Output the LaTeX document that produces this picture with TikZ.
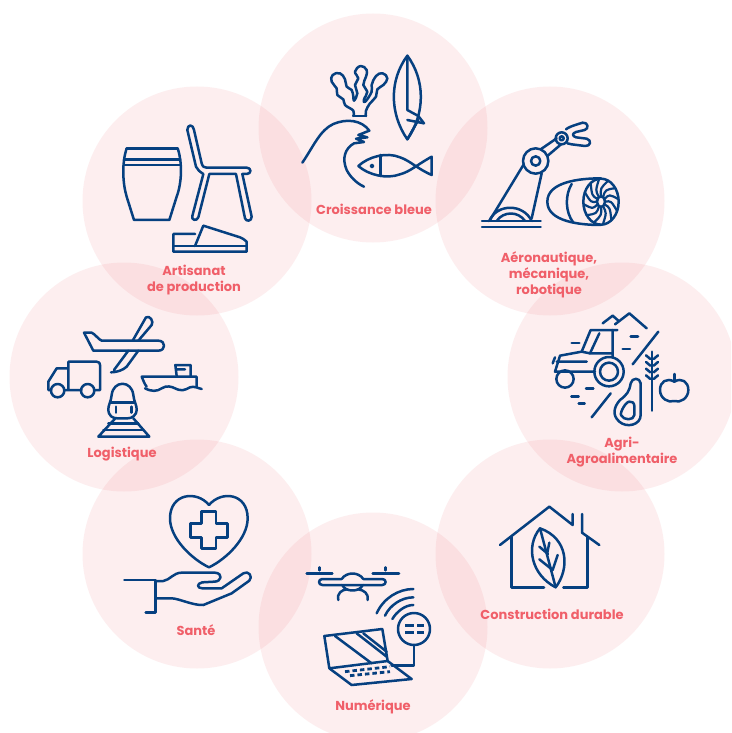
\documentclass[tikz,border=0pt]{standalone}
\usetikzlibrary{calc}
\usepackage{fontspec}
\setmainfont{Poppins}
\definecolor{pinkfill}{RGB}{235,75,85}
\definecolor{labelred}{RGB}{240,95,105}
\definecolor{navy}{RGB}{6,64,128}
\tikzset{
  sector/.style={fill=pinkfill,fill opacity=.09,draw=none},
  icon/.style={draw=navy,line width=2.5pt,line cap=round,line join=round},
  zoomed/.style={shift={#1},scale=.33333,every path/.append style={icon}},
  sectorlabel/.style={text=labelred,font=\fontsize{13}{16}\selectfont\bfseries,align=center,inner sep=0pt,anchor=center,yshift=-1.5pt}
}
\begin{document}
\begin{tikzpicture}[x=1pt,y=-1pt]
\useasboundingbox (0,0) rectangle (731,733);
\fill[white] (0,0) rectangle (731,733);
\begin{scope}
\clip (0,0) rectangle (731,733);
\foreach \cx/\cy in {373/128,550/201,622/377,550/554,373/627,197/554,124/377,197/201}
  \fill[sector] (\cx,\cy) circle (114.5);
\end{scope}

% Croissance bleue
\begin{scope}[zoomed={(290,40)}]
\draw plot[smooth,tension=.75] coordinates {(190,228)(190,212)(165,195)(160,178)(142,165)(140,145)(125,125)(128,105)(150,100)(165,118)(170,140)(185,150)(190,170)(192,182)(202,160)(195,135)(205,115)(195,95)(212,78)(230,90)(228,110)(220,135)(232,155)(222,178)(226,185)(245,155)(245,135)(258,108)(278,100)(292,115)(280,135)(262,148)(258,170)(240,190)(228,212)(228,228)};
\draw (190,228)--(228,228);
\draw (352,47) .. controls (298,120) and (298,220) .. (352,298) .. controls (406,220) and (406,120) .. (352,47);
\draw (352,47)--(352,210)--(385,228)--(402,250)--(352,240);
\draw (385,240)--(352,298);
\draw (37,368) .. controls (70,320) and (90,270) .. (130,252) .. controls (170,235) and (215,240) .. (238,272)--(205,285)--(232,292)--(198,296)--(222,306)--(192,310) .. controls (165,325) and (155,355) .. (170,390) .. controls (180,410) and (200,430) .. (222,440);
\draw (205,378) .. controls (235,350) and (290,335) .. (330,352) .. controls (360,362) and (380,385) .. (425,405)--(425,350) .. controls (380,375) and (360,395) .. (330,403) .. controls (290,418) and (235,405) .. (205,378);
\draw (272,345)--(272,408);
\draw (246,378) circle (3.5);
\end{scope}

% Aeronautique
\begin{scope}[zoomed={(470,110)}]
\draw (36,333)--(212,333) (36,351)--(212,351);
\draw (58,333) .. controls (80,280) and (160,280) .. (185,333);
\draw (80,333) .. controls (100,303) and (145,303) .. (165,333);
\draw (58,333)--(160,165) (185,325)--(215,190);
\draw (197,153) circle (38) (197,153) circle (14);
\draw (212,118)--(260,85) (232,138)--(272,104);
\draw (275,85) circle (18) (275,85) circle (6);
\draw (288,58) .. controls (295,52) and (305,48) .. (338,38) .. controls (354,36) and (358,56) .. (344,60)--(318,66) .. controls (306,70) and (306,78) .. (318,82)--(350,86) .. controls (366,90) and (362,110) .. (345,108)--(305,103)--(292,100);
\draw (393,205) .. controls (330,205) and (232,215) .. (232,275) .. controls (232,335) and (330,345) .. (393,345);
\draw (305,222) .. controls (285,255) and (285,305) .. (310,338);
\draw (393,275) ellipse (53 and 69);
\draw (393,275) ellipse (12 and 16);
\foreach \a in {0,30,...,330}{
  \pgfmathsetmacro\hx{393+12*cos(\a)}
  \pgfmathsetmacro\hy{275+16*sin(\a)}
  \pgfmathsetmacro\mx{393+30*cos(\a-4)}
  \pgfmathsetmacro\my{275+40*sin(\a-4)}
  \pgfmathsetmacro\bx{393+53*cos(\a+24)}
  \pgfmathsetmacro\by{275+69*sin(\a+24)}
  \draw[line width=2.2pt] (\hx,\hy) .. controls (\mx,\my) .. (\bx,\by);
}
\end{scope}

% Agri
\begin{scope}[zoomed={(540,300)}]
\draw (188,70)--(218,47)--(235,62);
\draw (225,73)--(268,40)--(320,85);
\draw (152,90)--(232,90) (152,90)--(125,155)--(60,167)--(45,215)--(165,215);
\draw (178,100)--(150,160)--(215,160) (218,90)--(218,172);
\draw (50,185)--(140,185) (38,190)--(45,172);
\draw (125,155)--(150,160);
\draw (75,237) circle (26);
\draw (207,215) circle (44) (207,215) circle (27);
\draw (95,129)--(118,129) (272,109)--(294,109) (248,147)--(270,147) (138,266)--(160,266) (94,289)--(116,289) (116,310)--(134,310);
\draw (355,95)--(278,193) (212,280)--(155,352);
\draw (336,155)--(336,332);
\foreach \y in {172,192,212,232}
  \draw (318,\y-6)--(331,\y+5) (354,\y-6)--(341,\y+5);
\draw (403,222)--(403,245);
\draw (403,245) .. controls (380,232) and (360,245) .. (360,270) .. controls (360,295) and (385,310) .. (403,303) .. controls (420,310) and (445,295) .. (445,270) .. controls (445,245) and (425,232) .. (403,245);
\draw (272,250) .. controls (276,232) and (300,232) .. (302,250)--(302,345) .. controls (302,375) and (260,385) .. (238,365) .. controls (215,345) and (222,320) .. (240,300) .. controls (260,285) and (268,275) .. (272,250);
\draw (268,305) .. controls (258,305) and (240,335) .. (243,345) .. controls (250,362) and (282,362) .. (283,345)--(283,318) .. controls (283,308) and (275,303) .. (268,305);
\end{scope}

% Construction
\begin{scope}[zoomed={(490,490)}]
\draw (30,165)--(178,50)--(248,105)--(248,72);
\draw (276,72)--(276,128)--(328,165);
\draw (65,140)--(65,292)--(162,292) (220,292)--(292,292)--(292,140);
\draw (150,115) .. controls (105,170) and (125,255) .. (197,292) .. controls (240,235) and (235,145) .. (150,115);
\draw (150,115)--(197,292);
\draw (148,170)--(174,192) (178,158)--(172,188) (148,208)--(188,240) (203,195)--(188,240);
\end{scope}

% Numerique
\begin{scope}[zoomed={(295,555)}]
\draw (35,55)--(112,55) (233,55)--(312,55) (73,37)--(73,46) (272,37)--(272,46);
\draw (82,72)--(140,72) .. controls (155,50) and (190,50) .. (205,72)--(262,72) .. controls (275,72) and (275,90) .. (262,90)--(82,90) .. controls (69,90) and (69,72) .. (82,72);
\draw (142,90) .. controls (150,112) and (195,112) .. (203,90);
\draw (130,135) .. controls (125,115) and (140,105) .. (155,103) (218,135) .. controls (222,115) and (205,105) .. (190,103);
\draw (245,175) .. controls (265,130) and (310,102) .. (355,102);
\draw (270,182) .. controls (285,150) and (320,127) .. (355,127);
\draw (292,192) .. controls (305,170) and (330,150) .. (355,150);
\draw (357,222) circle (48);
\draw[dash pattern=on 9pt off 3pt,line cap=butt] (330,212)--(386,212) (330,232)--(386,232);
\draw (357,270)--(357,332)--(290,332);
\draw (88,243)--(262,222)--(278,318)--(103,340)--cycle;
\draw (120,243)--(230,325) (185,235)--(275,305) (205,235)--(275,290);
\draw (103,340)--(170,390)--(350,372)--(278,318);
\draw[line width=2.8pt,dash pattern=on 4.5pt off 3pt,line cap=butt] (150,350)--(285,335) (165,362)--(285,350);
\end{scope}

% Sante
\begin{scope}[zoomed={(115,485)}]
\draw (282,60) .. controls (245,15) and (165,25) .. (165,100) .. controls (165,160) and (230,222) .. (282,247) .. controls (334,222) and (398,160) .. (398,100) .. controls (398,25) and (320,15) .. (282,60);
\draw (260,80)--(303,80)--(303,115)--(337,115)--(337,157)--(303,157)--(303,190)--(260,190)--(260,157)--(227,157)--(227,115)--(260,115)--cycle;
\draw (28,285)--(122,285)--(122,382)--(92,382);
\draw (122,288)--(145,288) .. controls (165,285) and (175,263) .. (200,263)--(300,263) .. controls (325,265) and (320,290) .. (298,290)--(262,292) .. controls (245,295) and (245,310) .. (262,310)--(320,310)--(385,265) .. controls (400,255) and (415,275) .. (403,287)--(350,325)--(265,360) .. controls (235,362) and (190,340) .. (170,340)--(122,340);
\end{scope}

% Logistique
\begin{scope}[zoomed={(40,310)}]
\draw (132,68)--(155,68) .. controls (165,72) and (175,88) .. (185,92)--(355,92) .. controls (378,92) and (378,122) .. (355,122)--(160,122)--cycle;
\draw (278,92)--(318,22) .. controls (330,15) and (342,35) .. (335,45)--(295,92);
\draw (265,122)--(222,180) (295,122)--(260,170) .. controls (250,180) and (230,187) .. (213,187);
\draw (85,175)--(85,155)--(170,155) .. controls (178,155) and (180,160) .. (180,165)--(180,240)--(162,240) (124,240)--(73,240) (33,240)--(25,240)--(25,215)--(50,175)--(85,175)--(85,240);
\draw (53,242) circle (20) (143,242) circle (20);
\draw (320,230) .. controls (312,220) and (310,210) .. (305,200)--(470,200)--(470,230);
\draw (410,198)--(406,165)--(452,165)--(452,198) (412,178)--(435,178);
\draw (315,235) .. controls (335,245) and (350,245) .. (365,235) .. controls (380,225) and (395,230) .. (405,235) .. controls (425,245) and (435,240) .. (450,232) .. controls (462,227) and (475,235) .. (485,237);
\draw (205,297) .. controls (205,285) and (213,275) .. (215,255) .. controls (220,210) and (275,210) .. (280,255) .. controls (282,275) and (290,285) .. (290,297) .. controls (290,318) and (275,325) .. (262,325)--(232,325) .. controls (218,325) and (205,318) .. (205,297);
\draw (212,277)--(283,277);
\draw (228,290)--(228,308) (275,290)--(275,308);
\draw (226,325)--(175,380)--(328,380)--(280,325);
\draw (205,340)--(295,340) (190,360)--(310,360);
\end{scope}

% Artisanat
\begin{scope}[zoomed={(110,120)}]
\draw (50,85)--(203,85) (42,118)--(210,118) (42,135)--(210,135);
\draw (50,85) .. controls (35,130) and (38,190) .. (50,230)--(72,300)--(178,300)--(200,230) .. controls (215,190) and (218,130) .. (203,85);
\draw (258,140)--(232,30) .. controls (232,12) and (250,12) .. (252,30)--(275,130) .. controls (278,140) and (282,143) .. (290,143)--(410,143) .. controls (425,143) and (425,162) .. (410,162)--(397,162)--(425,290) .. controls (425,305) and (408,305) .. (405,295)--(378,162)--(298,162)--(265,292) .. controls (260,305) and (243,300) .. (247,288)--(280,162) .. controls (270,155) and (262,150) .. (258,140);
\draw (255,342)--(190,342)--(190,395)--(410,395)--(410,365) .. controls (405,358) and (395,355) .. (390,352)--(280,317)--(255,378);
\draw (190,378)--(410,378);
\end{scope}

\node[sectorlabel] (l1) at (374,208) {Croissance bleue};
\node[sectorlabel] (l2) at (549,273) {Aéronautique,\\mécanique,\\robotique};
\node[sectorlabel] (l3) at (622,451) {Agri-\\Agroalimentaire};
\node[sectorlabel] (l4) at (552,613) {Construction durable};
\node[sectorlabel] (l5) at (373,705) {Numérique};
\node[sectorlabel] (l6) at (196,629) {Santé};
\node[sectorlabel] (l7) at (122,453) {Logistique};
\node[sectorlabel] (l8) at (194,279) {Artisanat\\de production};
\end{tikzpicture}
\end{document}
